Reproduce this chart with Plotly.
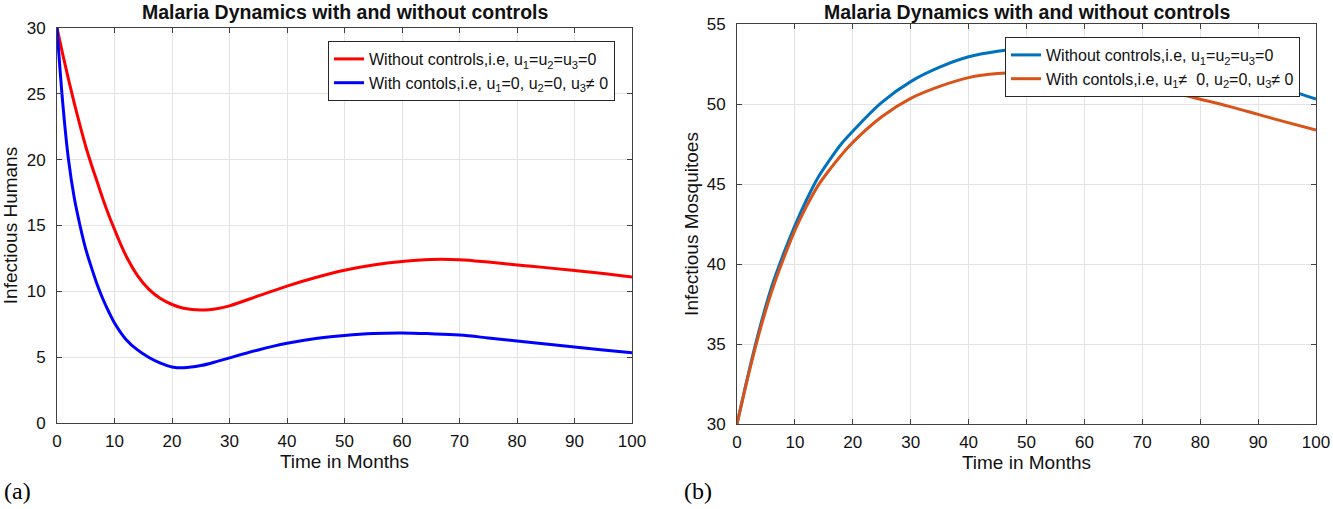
import plotly.graph_objects as go
from plotly.subplots import make_subplots

# panel (a): infectious humans
t_a = [0, 1, 2, 3, 4, 5, 6, 7, 8, 9, 10, 12, 14, 16, 18, 20, 22, 25, 28, 30,
       35, 40, 45, 50, 55, 60, 65, 70, 75, 80, 85, 90, 95, 100]
humans_no_ctrl = [30, 28.0, 26.1, 24.3, 22.6, 21.0, 19.6, 18.3, 17.0, 15.8, 14.7,
                  12.7, 11.2, 10.15, 9.45, 9.0, 8.72, 8.58, 8.7, 8.9,
                  9.65, 10.4, 11.05, 11.6, 12.0, 12.27, 12.42, 12.4, 12.22, 12.0,
                  11.8, 11.58, 11.35, 11.09]
humans_ctrl = [30, 24.3, 20.0, 17.1, 15.0, 13.2, 11.8, 10.5, 9.4, 8.45, 7.6,
               6.35, 5.55, 4.98, 4.55, 4.26, 4.19, 4.36, 4.7, 4.95,
               5.55, 6.05, 6.42, 6.65, 6.8, 6.84, 6.78, 6.68, 6.46, 6.22,
               6.0, 5.77, 5.55, 5.33]

# panel (b): infectious mosquitoes
t_b = [0, 2, 4, 6, 8, 10, 12, 14, 16, 18, 20, 25, 30, 35, 40, 45, 50, 55, 60,
       65, 70, 75, 80, 85, 90, 95, 100]
mosq_no_ctrl = [30, 33.2, 36.1, 38.6, 40.6, 42.4, 44.0, 45.4, 46.5, 47.5, 48.3,
                50.1, 51.4, 52.3, 52.95, 53.3, 53.5, 53.6, 53.5, 53.3, 53.0,
                52.7, 52.3, 51.9, 51.4, 50.9, 50.3]
mosq_ctrl = [30, 33.1, 35.9, 38.3, 40.3, 42.1, 43.6, 44.9, 45.9, 46.8, 47.6,
             49.2, 50.35, 51.1, 51.65, 51.9, 51.95, 51.85, 51.65, 51.4, 51.1,
             50.75, 50.3, 49.85, 49.35, 48.85, 48.37]

x_ticks = list(range(0, 101, 10))
title_text = "Malaria Dynamics with and without controls"
lbl_a1 = "Without controls,i.e, u<sub>1</sub>=u<sub>2</sub>=u<sub>3</sub>=0"
lbl_a2 = "With contols,i.e, u<sub>1</sub>=0, u<sub>2</sub>=0, u<sub>3</sub>\u2260 0"
lbl_b1 = "Without controls,i.e, u<sub>1</sub>=u<sub>2</sub>=u<sub>3</sub>=0"
lbl_b2 = "With contols,i.e, u<sub>1</sub>\u2260  0, u<sub>2</sub>=0, u<sub>3</sub>\u2260 0"

FONT = "Liberation Sans, Arial, sans-serif"
W, H = 1333, 509

fig = make_subplots(rows=1, cols=2)

fig.add_trace(go.Scatter(x=t_a, y=humans_no_ctrl, mode="lines", name=lbl_a1,
                         line=dict(color="#ff0000", width=3, shape="spline"),
                         legend="legend"), row=1, col=1)
fig.add_trace(go.Scatter(x=t_a, y=humans_ctrl, mode="lines", name=lbl_a2,
                         line=dict(color="#0000ff", width=3, shape="spline"),
                         legend="legend"), row=1, col=1)
fig.add_trace(go.Scatter(x=t_b, y=mosq_no_ctrl, mode="lines", name=lbl_b1,
                         line=dict(color="#0072bd", width=3, shape="spline"),
                         legend="legend2"), row=1, col=2)
fig.add_trace(go.Scatter(x=t_b, y=mosq_ctrl, mode="lines", name=lbl_b2,
                         line=dict(color="#d95319", width=3, shape="spline"),
                         legend="legend2"), row=1, col=2)

axis_style = dict(
    showline=True, linecolor="#404040", linewidth=1, mirror="ticks",
    ticks="inside", ticklen=5, tickcolor="#404040",
    showgrid=True, gridcolor="#e3e3e3", zeroline=False, automargin=False,
    tickfont=dict(family=FONT, size=17, color="#111111"),
    title_font=dict(family=FONT, size=19, color="#111111"),
)

fig.update_xaxes(axis_style)
fig.update_yaxes(axis_style)

fig.update_xaxes(range=[0, 100], tickvals=x_ticks, ticklabelstandoff=3,
                 title=dict(text="Time in Months", standoff=3))
fig.update_xaxes(domain=[57 / W, 632 / W], row=1, col=1)
fig.update_xaxes(domain=[737 / W, 1316 / W], row=1, col=2)

fig.update_yaxes(range=[0, 30], dtick=5, domain=[1 - 423 / H, 1 - 28 / H],
                 ticklabelstandoff=7,
                 title=dict(text="Infectious Humans", standoff=6), row=1, col=1)
fig.update_yaxes(range=[30, 55], dtick=5, domain=[1 - 424 / H, 1 - 24 / H],
                 ticklabelstandoff=7,
                 title=dict(text="Infectious Mosquitoes", standoff=3), row=1, col=2)

legend_style = dict(
    bgcolor="white", bordercolor="#262626", borderwidth=1,
    font=dict(family=FONT, size=16, color="#111111"),
    xanchor="right", yanchor="top", xref="paper", yref="paper",
)

fig.update_layout(
    width=W, height=H,
    margin=dict(l=0, r=0, t=0, b=0),
    paper_bgcolor="white", plot_bgcolor="white",
    legend=dict(legend_style, x=615 / W, y=1 - 41 / H),
    legend2=dict(legend_style, x=1300 / W, y=1 - 37 / H),
)

# panel titles
for cx in [(57 + 632) / 2 / W, (737 + 1316) / 2 / W]:
    fig.add_annotation(text="<b>" + title_text + "</b>", x=cx, y=1 - 12 / H,
                       xref="paper", yref="paper", showarrow=False,
                       xanchor="center", yanchor="middle",
                       font=dict(family=FONT, size=19.5, color="#111111"))

# panel letters
for lx, lab in [(17 / W, "(a)"), (698 / W, "(b)")]:
    fig.add_annotation(text=lab, x=lx, y=1 - 491 / H, xref="paper", yref="paper",
                       showarrow=False, xanchor="center", yanchor="middle",
                       font=dict(family="Liberation Serif, Times New Roman, serif",
                                 size=24, color="#000000"))

fig.write_html("out.html", config={"displayModeBar": False},
               post_script="document.body.style.margin='0';")
